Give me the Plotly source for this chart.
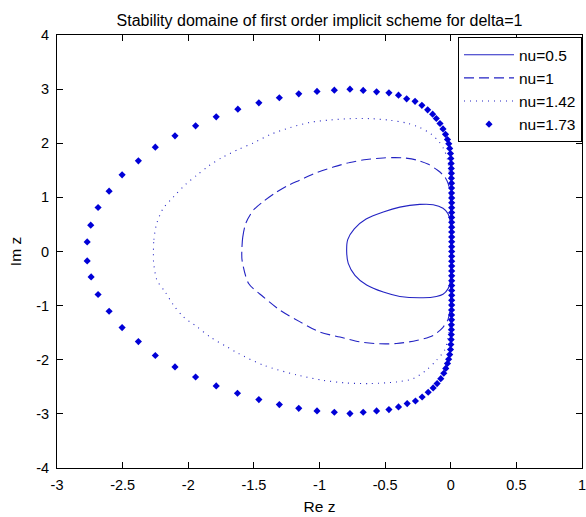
import plotly.graph_objects as go

# ---- nu = 0.5 (solid) ----
re_nu05 = [-0.793, -0.785, -0.735, -0.645, -0.514, -0.388, -0.236, -0.134, -0.059, -0.021,
           -0.006, 0.000, 0.002, 0.002, 0.002, 0.000, -0.006, -0.021, -0.059, -0.109,
           -0.210, -0.388, -0.514, -0.641, -0.730, -0.781, -0.793]
im_nu05 = [0.000, 0.220, 0.420, 0.600, 0.730, 0.820, 0.870, 0.865, 0.800, 0.700,
           0.580, 0.400, 0.200, 0.000, -0.200, -0.400, -0.580, -0.690, -0.790, -0.830,
           -0.855, -0.830, -0.750, -0.620, -0.440, -0.220, 0.000]

# ---- nu = 1 (dashed) ----
re_nu1 = [-1.592, -1.585, -1.562, -1.505, -1.430, -1.345, -1.249, -1.148, -1.020, -0.895,
          -0.768, -0.641, -0.515, -0.439, -0.362, -0.261, -0.170, -0.100, -0.046, -0.018,
          -0.005, 0.000, 0.002, 0.002, 0.002, 0.000, -0.005, -0.020, -0.059, -0.134,
          -0.261, -0.413, -0.540, -0.692, -0.844, -0.996, -1.148, -1.300, -1.427, -1.540,
          -1.590, -1.592]
im_nu1 = [0.000, 0.260, 0.520, 0.760, 0.920, 1.070, 1.210, 1.320, 1.460, 1.560,
          1.645, 1.700, 1.728, 1.735, 1.730, 1.690, 1.610, 1.500, 1.380, 1.240,
          1.050, 0.800, 0.400, 0.000, -0.400, -0.800, -1.050, -1.250, -1.400, -1.550,
          -1.645, -1.700, -1.705, -1.670, -1.580, -1.490, -1.300, -1.085, -0.840, -0.590,
          -0.160, 0.000]

# ---- nu = 1.42 (dotted) ----
re_nu142 = [-2.265, -2.262, -2.240, -2.190, -2.112, -2.020, -1.934, -1.845, -1.740, -1.614,
            -1.500, -1.376, -1.224, -1.072, -0.920, -0.768, -0.616, -0.464, -0.340, -0.236,
            -0.150, -0.090, -0.050, -0.025, -0.010, -0.002, 0.002, 0.003, 0.002, -0.002,
            -0.010, -0.028, -0.046, -0.109, -0.185, -0.287, -0.413, -0.616, -0.793, -0.971,
            -1.174, -1.427, -1.617, -1.706, -1.833, -1.934, -2.036, -2.112, -2.175, -2.238,
            -2.264, -2.265]
im_nu142 = [0.000, 0.220, 0.520, 0.800, 1.010, 1.240, 1.410, 1.580, 1.740, 1.890,
            2.010, 2.160, 2.290, 2.385, 2.430, 2.455, 2.455, 2.425, 2.375, 2.290,
            2.170, 2.030, 1.880, 1.700, 1.450, 1.100, 0.600, 0.000, -0.600, -1.100,
            -1.450, -1.680, -1.820, -2.010, -2.190, -2.350, -2.410, -2.440, -2.430, -2.380,
            -2.280, -2.100, -1.885, -1.760, -1.580, -1.390, -1.210, -0.990, -0.750, -0.530,
            -0.200, 0.000]

# ---- nu = 1.73 (markers) ----
re_nu173 = [-2.770, -2.743, -2.687, -2.603, -2.504, -2.380, -2.251, -2.101, -1.944, -1.787,
            -1.622, -1.462, -1.306, -1.158, -1.019, -0.887, -0.768, -0.667, -0.565, -0.471,
            -0.398, -0.336, -0.272, -0.220, -0.176, -0.138, -0.110, -0.082, -0.059, -0.040,
            -0.025, -0.015, -0.008, -0.002, 0.001, 0.003, 0.004, 0.005, 0.005, 0.006,
            0.006, 0.006, 0.007, 0.007, 0.007, 0.007, 0.007, 0.007, 0.007, 0.007,
            0.007, 0.007, 0.007, 0.007,
            0.007, 0.007, 0.007, 0.007, 0.007, 0.007, 0.007, 0.007, 0.007, 0.007,
            0.007, 0.006, 0.006, 0.006, 0.005, 0.005, 0.004, 0.003, 0.001, -0.002,
            -0.008, -0.016, -0.025, -0.038, -0.053, -0.076, -0.104, -0.134, -0.172, -0.218,
            -0.269, -0.332, -0.398, -0.471, -0.565, -0.667, -0.768, -0.887, -1.019, -1.158,
            -1.306, -1.462, -1.625, -1.787, -1.944, -2.101, -2.251, -2.380, -2.504, -2.603,
            -2.687, -2.740, -2.770]
im_nu173 = [0.177, 0.486, 0.813, 1.115, 1.416, 1.675, 1.928, 2.137, 2.322, 2.488,
            2.630, 2.747, 2.840, 2.913, 2.957, 2.981, 3.000, 2.976, 2.950, 2.932,
            2.889, 2.820, 2.775, 2.700, 2.618, 2.538, 2.458, 2.365, 2.265, 2.165,
            2.070, 1.990, 1.904, 1.811, 1.719, 1.627, 1.535, 1.444, 1.353, 1.262,
            1.171, 1.080, 0.990, 0.900, 0.810, 0.720, 0.630, 0.540, 0.450, 0.360,
            0.270, 0.180, 0.090, 0.000,
            -0.090, -0.180, -0.270, -0.360, -0.450, -0.540, -0.630, -0.720, -0.810, -0.900,
            -0.990, -1.080, -1.171, -1.262, -1.353, -1.444, -1.535, -1.627, -1.719, -1.811,
            -1.904, -1.990, -2.070, -2.160, -2.250, -2.350, -2.440, -2.520, -2.600, -2.688,
            -2.762, -2.810, -2.872, -2.921, -2.946, -2.970, -2.995, -2.970, -2.946, -2.897,
            -2.828, -2.736, -2.619, -2.484, -2.318, -2.133, -1.922, -1.664, -1.405, -1.104,
            -0.795, -0.470, -0.174]

x_ticks = [-3, -2.5, -2, -1.5, -1, -0.5, 0, 0.5, 1]
y_ticks = [-4, -3, -2, -1, 0, 1, 2, 3, 4]

LINE_BLUE = "rgb(35,35,195)"
MARK_BLUE = "rgb(0,0,215)"
FONT = "Liberation Sans, Arial, sans-serif"

fig = go.Figure()
fig.add_trace(go.Scatter(x=re_nu05, y=im_nu05, mode="lines", name="nu=0.5",
                         line=dict(color=LINE_BLUE, width=1.1, shape="spline", smoothing=0.8)))
fig.add_trace(go.Scatter(x=re_nu1, y=im_nu1, mode="lines", name="nu=1",
                         line=dict(color=LINE_BLUE, width=1.1, dash="10px,5px",
                                   shape="spline", smoothing=0.8)))
fig.add_trace(go.Scatter(x=re_nu142, y=im_nu142, mode="lines", name="nu=1.42",
                         line=dict(color=LINE_BLUE, width=1.1, dash="1px,5px",
                                   shape="spline", smoothing=0.8)))
fig.add_trace(go.Scatter(x=re_nu173, y=im_nu173, mode="markers", name="nu=1.73",
                         marker=dict(symbol="diamond", size=5.5, color=MARK_BLUE,
                                     line=dict(width=0))))

axis_common = dict(
    showline=True, linecolor="black", linewidth=1, mirror="allticks",
    ticks="inside", ticklen=6, tickcolor="black", tickwidth=1,
    showgrid=False, zeroline=False, automargin=False,
    tickfont=dict(family=FONT, size=14.5, color="black"),
)

fig.update_layout(
    width=586, height=517,
    margin=dict(l=57, r=4, t=35, b=49),
    paper_bgcolor="white", plot_bgcolor="white",
    font=dict(family=FONT, size=15, color="black"),
    title=dict(text="Stability domaine of first order implicit scheme for delta=1",
               x=0.5, xref="paper", y=1 - 20.5 / 517, yref="container",
               xanchor="center", yanchor="middle",
               font=dict(family=FONT, size=16, color="black")),
    xaxis=dict(range=[-3, 1], tickvals=x_ticks, ticktext=[f"{v:g}" for v in x_ticks],
               title=dict(text="Re z", standoff=8, font=dict(size=15.5)),
               ticklabelstandoff=4, ticklabeloverflow="allow", **axis_common),
    yaxis=dict(range=[-4, 4], tickvals=y_ticks, ticktext=[f"{v:g}" for v in y_ticks],
               title=dict(text="Im z", standoff=10, font=dict(size=15.5)),
               ticklabelstandoff=4, **axis_common),
    legend=dict(x=1.0, y=0.995, xanchor="right", yanchor="top",
                bgcolor="white", bordercolor="black", borderwidth=1,
                font=dict(family=FONT, size=15.5, color="black"),
                tracegroupgap=0, itemwidth=50),
    showlegend=True,
)

fig.write_html("out.html")
